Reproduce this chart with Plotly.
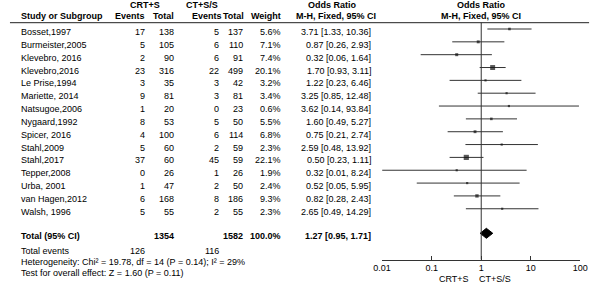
import math
import plotly.graph_objects as go

studies = ["Bosset,1997", "Burmeister,2005", "Klevebro, 2016", "Klevebro,2016", "Le Prise,1994",
           "Mariette, 2014", "Natsugoe,2006", "Nygaard,1992", "Spicer, 2016", "Stahl,2009",
           "Stahl,2017", "Tepper,2008", "Urba, 2001", "van Hagen,2012", "Walsh, 1996"]
crt_events = [17, 5, 2, 23, 3, 9, 1, 8, 4, 5, 37, 0, 1, 6, 5]
crt_total = [138, 105, 90, 316, 35, 81, 20, 53, 100, 60, 60, 26, 47, 168, 55]
ct_events = [5, 6, 6, 22, 3, 3, 0, 5, 6, 2, 45, 1, 2, 8, 2]
ct_total = [137, 110, 91, 499, 42, 81, 23, 50, 114, 59, 59, 26, 50, 186, 55]
weights = [5.6, 7.1, 7.4, 20.1, 3.2, 3.4, 0.6, 5.5, 6.8, 2.3, 22.1, 1.9, 2.4, 9.3, 2.3]
odds = [3.71, 0.87, 0.32, 1.70, 1.22, 3.25, 3.62, 1.60, 0.75, 2.59, 0.50, 0.32, 0.52, 0.82, 2.65]
ci_lo = [1.33, 0.26, 0.06, 0.93, 0.23, 0.85, 0.14, 0.49, 0.21, 0.48, 0.23, 0.01, 0.05, 0.28, 0.49]
ci_hi = [10.36, 2.93, 1.64, 3.11, 6.46, 12.48, 93.84, 5.27, 2.74, 13.92, 1.11, 8.24, 5.95, 2.43, 14.29]

total_crt = 1354
total_ct = 1582
total_weight = "100.0%"
events_crt = 126
events_ct = 116
pooled = 1.27
pooled_lo = 0.95
pooled_hi = 1.71
heterogeneity = "Heterogeneity: Chi² = 19.78, df = 14 (P = 0.14); I² = 29%"
overall = "Test for overall effect: Z = 1.60 (P = 0.11)"
tick_vals = [0.01, 0.1, 1, 10, 100]
tick_text = ["0.01", "0.1", "1", "10", "100"]
null_value = 1

W, H = 600, 286
ROW0 = 29.0
SP = 12.84
def row_of(px):
    return (px - ROW0) / SP

FONT = "Liberation Sans, Arial, sans-serif"
fig = go.Figure()

rows = list(range(len(studies)))

lx, ly = [], []
for i in rows:
    lx += [ci_lo[i], ci_hi[i], None]
    ly += [i, i, None]
fig.add_trace(go.Scatter(x=lx, y=ly, mode="lines", line=dict(color="#333333", width=1),
                         hoverinfo="skip", showlegend=False, cliponaxis=False))
sizes = [max(2.2, 1.1 * w ** 0.5) for w in weights]
fig.add_trace(go.Scatter(x=odds, y=rows, mode="markers",
                         marker=dict(symbol="square", size=sizes, color="#111111", line=dict(width=0)),
                         showlegend=False, cliponaxis=False))
tr = row_of(233.3)
h = 5 / SP
fig.add_trace(go.Scatter(x=[pooled_lo, pooled, pooled_hi, pooled, pooled_lo],
                         y=[tr, tr - h, tr, tr + h, tr], mode="lines", fill="toself",
                         fillcolor="black", line=dict(color="black", width=1),
                         showlegend=False, cliponaxis=False))

line_y = 1 - 22.7 / H
axis_y = 1 - 259.5 / H
fig.add_shape(type="line", xref="x", yref="paper", x0=null_value, x1=null_value, y0=axis_y, y1=line_y,
              line=dict(color="#333333", width=1))
fig.add_shape(type="line", xref="paper", yref="paper", x0=1 / W, x1=597 / W, y0=line_y, y1=line_y,
              line=dict(color="#222222", width=1))

def txt(xpx, yrow, s, anchor="left", bold=False, size=9, shift=-3):
    fig.add_annotation(x=xpx / W, xref="paper", y=yrow, yref="y", text=("<b>%s</b>" % s) if bold else s,
                       showarrow=False, xanchor=anchor, yanchor="middle", yshift=shift,
                       font=dict(family=FONT, size=size, color="black"))

def txt_x(xval, yrow, s, anchor="center", bold=False, xshift=0, shift=-3, yanchor="middle"):
    fig.add_annotation(x=math.log10(xval), xref="x", y=yrow, yref="y", text=("<b>%s</b>" % s) if bold else s,
                       showarrow=False, xanchor=anchor, yanchor=yanchor, yshift=shift, xshift=xshift,
                       font=dict(family=FONT, size=9, color="black"))

r1 = row_of(5)
r2 = row_of(16)
txt(140, r1, "CRT+S", "center", True, shift=0)
txt(199, r1, "CT+S/S", "center", True, shift=0)
txt(333, r1, "Odds Ratio", "center", True, shift=0)
txt_x(null_value, r1, "Odds Ratio", "center", True, shift=0)
txt(10, r2, "Study or Subgroup", "left", True, shift=0)
txt(142, r2, "Events", "right", True, shift=0)
txt(172, r2, "Total", "right", True, shift=0)
txt(221, r2, "Events", "right", True, shift=0)
txt(244, r2, "Total", "right", True, shift=0)
txt(282, r2, "Weight", "right", True, shift=0)
txt(380, r2, "M-H, Fixed, 95% CI", "right", True, shift=0)
txt_x(null_value, r2, "M-H, Fixed, 95% CI", "center", True, shift=0)

for i in rows:
    txt(10, i, studies[i], "left")
    txt(142, i, str(crt_events[i]), "right")
    txt(172, i, str(crt_total[i]), "right")
    txt(218, i, str(ct_events[i]), "right")
    txt(243, i, str(ct_total[i]), "right")
    txt(282, i, "%.1f%%" % weights[i], "right")
    txt(375, i, "%.2f [%.2f, %.2f]" % (odds[i], ci_lo[i], ci_hi[i]), "right")

txt(10, tr, "Total (95% CI)", "left", True)
txt(172, tr, str(total_crt), "right", True)
txt(243, tr, str(total_ct), "right", True)
txt(282, tr, total_weight, "right", True)
txt(375, tr, "%.2f [%.2f, %.2f]" % (pooled, pooled_lo, pooled_hi), "right", True)
re = row_of(247.7)
txt(10, re, "Total events", "left")
txt(142, re, str(events_crt), "right")
txt(218, re, str(events_ct), "right")
txt(10, row_of(259), heterogeneity, "left")
txt(10, row_of(270), overall, "left")

txt_x(null_value, row_of(278.5), "CRT+S", "right", xshift=-10, shift=0)
txt_x(null_value, row_of(278.5), "CT+S/S", "left", xshift=-4, shift=0)

fig.update_layout(
    width=W, height=H, margin=dict(l=0, r=0, t=0, b=0),
    paper_bgcolor="white", plot_bgcolor="white", showlegend=False,
    xaxis=dict(type="log", range=[-2, 2], domain=[384 / W, 588 / W], anchor="free", position=axis_y,
               showline=True, linecolor="#333333", linewidth=1, ticks="inside", ticklen=4,
               tickcolor="#333333", tickvals=tick_vals, ticktext=tick_text, showgrid=False,
               zeroline=False, tickfont=dict(family=FONT, size=9, color="black")),
    yaxis=dict(range=[row_of(H), row_of(0)], domain=[0, 1], visible=False, showgrid=False, zeroline=False),
)
fig.write_html("out.html", config={"displayModeBar": False},
               post_script="document.body.style.margin='0px';document.body.style.overflow='hidden';")
